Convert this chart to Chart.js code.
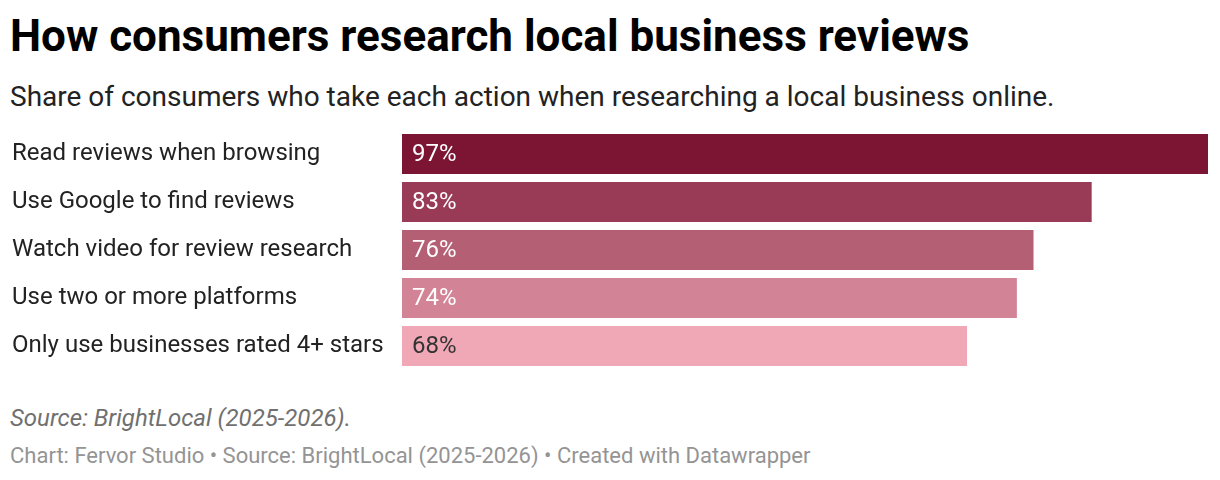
<!DOCTYPE html>
<html lang="en">
<head>
  <meta charset="UTF-8" />
  <title>How consumers research local business reviews</title>
  <style>
    body {
      margin: 0;
      background: #fff;
      font-family: Roboto, sans-serif;
      width: 1220px;
      height: 480px;
      overflow: hidden;
      position: relative;
    }
    h1, p, div { line-height: normal; }
    h1 {
      position: absolute;
      left: 10px;
      top: 10px;
      margin: 0;
      font-size: 44px;
      font-weight: 700;
      color: #000;
    }
    .subtitle {
      position: absolute;
      left: 10px;
      top: 80px;
      margin: 0;
      font-size: 28px;
      color: #222;
    }
    .chart-box {
      position: absolute;
      left: 0;
      top: 130px;
      width: 1220px;
      height: 240px;
    }
    .source {
      position: absolute;
      left: 10px;
      top: 404px;
      font-size: 24px;
      font-style: italic;
      color: #707070;
    }
    .footer {
      position: absolute;
      left: 10px;
      top: 443px;
      font-size: 22px;
      color: #949494;
    }
  </style>
</head>
<body>
  <h1>How consumers research local business reviews</h1>
  <p class="subtitle">Share of consumers who take each action when researching a local business online.</p>
  <div class="chart-box">
    <canvas id="barChart"></canvas>
  </div>
  <div class="source">Source: BrightLocal (2025-2026).</div>
  <div class="footer">Chart: Fervor Studio • Source: BrightLocal (2025-2026) • Created with Datawrapper</div>

  <script src="https://cdn.jsdelivr.net/npm/chart.js"></script>
  <script>
    const categories = [
      'Read reviews when browsing',
      'Use Google to find reviews',
      'Watch video for review research',
      'Use two or more platforms',
      'Only use businesses rated 4+ stars'
    ];
    const shares = [97, 83, 76, 74, 68];
    const barColors = ['#7c1434', '#993a56', '#b55f75', '#d38396', '#f0a8b7'];
    const labelColors = ['#fff', '#fff', '#fff', '#fff', '#333'];

    // values written inside the bars
    const valueLabels = {
      id: 'valueLabels',
      afterDatasetsDraw(chart) {
        const ctx = chart.ctx;
        const meta = chart.getDatasetMeta(0);
        ctx.save();
        ctx.font = '24px Roboto';
        ctx.textBaseline = 'middle';
        ctx.textAlign = 'left';
        meta.data.forEach((bar, i) => {
          ctx.fillStyle = labelColors[i];
          ctx.fillText(shares[i] + '%', bar.base + 10, bar.y + 1);
        });
        ctx.restore();
      }
    };

    const ctx = document.getElementById('barChart').getContext('2d');
    new Chart(ctx, {
      type: 'bar',
      data: {
        labels: categories,
        datasets: [{
          data: shares,
          backgroundColor: barColors,
          barPercentage: 40 / 48,
          categoryPercentage: 1
        }]
      },
      options: {
        indexAxis: 'y',
        responsive: true,
        maintainAspectRatio: false,
        animation: false,
        layout: { padding: { left: 12, right: 12, top: 0, bottom: 0 } },
        plugins: {
          legend: { display: false },
          tooltip: { enabled: false }
        },
        scales: {
          x: {
            min: 0,
            max: 97,
            display: false
          },
          y: {
            grid: { display: false },
            border: { display: false },
            afterFit(scale) {
              scale.width = 390;
              scale.paddingTop = 0;
              scale.paddingBottom = 0;
            },
            ticks: {
              crossAlign: 'far',
              color: '#222',
              font: { family: 'Roboto', size: 24 }
            }
          }
        }
      },
      plugins: [valueLabels]
    });
  </script>
</body>
</html>
